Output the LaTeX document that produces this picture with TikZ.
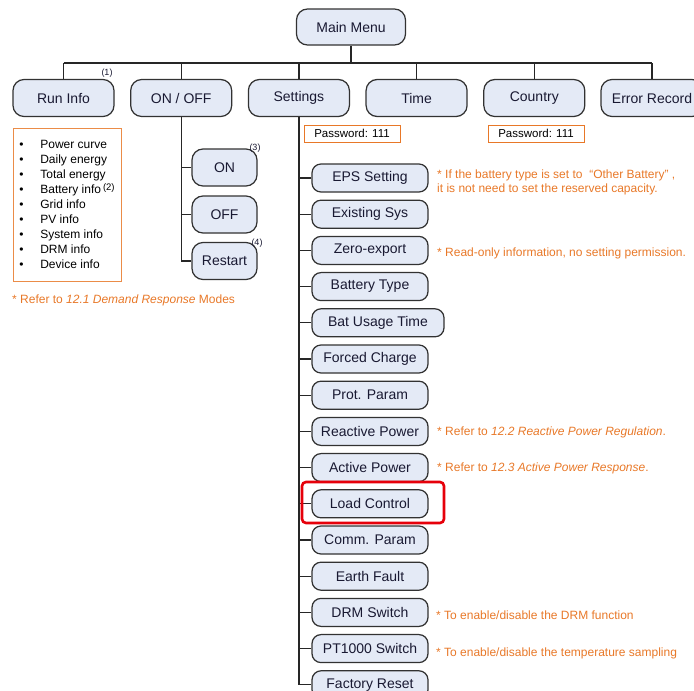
\documentclass[tikz,border=0pt]{standalone}
\usepackage{fontspec}
\setmainfont{Liberation Sans}

\definecolor{boxfill}{RGB}{228,234,246}
\definecolor{boxline}{RGB}{50,50,50}
\definecolor{menutext}{RGB}{25,25,50}
\definecolor{noteorange}{RGB}{232,120,40}
\definecolor{hired}{RGB}{230,0,10}

\tikzstyle{menu} = [align=center, draw=boxline, fill=boxfill, rectangle, rounded corners=11pt, line width=1.25pt, minimum height=37pt, minimum width=101pt, inner sep=0pt, text=menutext, font=\fontsize{14}{16}\selectfont]
\tikzstyle{sub} = [menu, rounded corners=9pt, minimum height=28pt, minimum width=116pt]
\tikzstyle{note} = [anchor=west, inner sep=0pt, align=left, text=noteorange, font=\fontsize{12}{14}\selectfont]
\tikzstyle{pwd} = [draw=noteorange, line width=0.9pt, minimum width=96pt, minimum height=17pt, inner sep=0pt, font=\fontsize{11.5}{13}\selectfont]
\tikzstyle{supnote} = [inner sep=0pt, text=menutext, font=\fontsize{9}{10}\selectfont]
\tikzstyle{wire} = [draw=black!85, line width=1.2pt]

\newcommand{\listrow}[1]{\makebox[21pt][l]{\textbullet}#1}

\begin{document}
\begin{tikzpicture}[x=1pt,y=-1pt]
            \useasboundingbox (0,0) rectangle (694,691);
            %
            % We start by placing the main menu and the first row
            \node [menu, minimum width=109pt, minimum height=36pt] (mainmenu) at (351,27) {Main Menu};
            \coordinate (busleft) at (63.5,63);
            \coordinate (busright) at (652,63);
            \node [menu] (runinfo) at (63.5,98) {Run Info};
            \node [menu] (onoff) at (181.2,98) {ON / OFF};
            \node [menu] (settings) at (298.9,98) {Settings};
            \node [menu] (time) at (416.6,98) {Time};
            \node [menu] (country) at (534.3,98) {Country};
            \node [menu, minimum width=102pt] (errorrecord) at (652,98) {Error Record};
            \node [supnote] (runsup) at (107,73) {(1)};
            %
            % The bus between the main menu and the first row
            \draw [wire] (busleft) -- (busright);
            \draw [wire] (mainmenu) -- (mainmenu |- busleft);
            \draw [wire] (runinfo) -- (runinfo |- busleft);
            \draw [wire] (onoff) -- (onoff |- busleft);
            \draw [wire] (settings) -- (settings |- busleft);
            \draw [wire] (time) -- (time |- busleft);
            \draw [wire] (country) -- (country |- busleft);
            \draw [wire] (errorrecord) -- (errorrecord |- busleft);
            %
            % Run info contents
            \node [draw=noteorange!85, line width=1pt, minimum width=108pt, minimum height=153pt, align=left, font=\fontsize{12}{15}\selectfont] (runlist) at (67,204.5)
                {\listrow{Power curve}\\ \listrow{Daily energy}\\ \listrow{Total energy}\\
                 \listrow{Battery info\,\raisebox{3pt}{\fontsize{9.5}{10}\selectfont(2)}}\\ \listrow{Grid info}\\ \listrow{PV info}\\
                 \listrow{System info}\\ \listrow{DRM info}\\ \listrow{Device info}};
            \node [note] (runnote) at (12,300) {* Refer to \textit{12.1 Demand Response} Modes};
            %
            % ON / OFF branch
            \node [menu, minimum width=65pt] (on) at (224.5,167.5) {ON};
            \node [menu, minimum width=65pt] (off) at (224.5,214.5) {OFF};
            \node [menu, minimum width=65pt] (restart) at (224.5,261) {Restart};
            \node [supnote] (onsup) at (255,148) {(3)};
            \node [supnote] (restartsup) at (257,243) {(4)};
            \draw [wire] (onoff) |- (restart);
            \draw [wire] (on) -- (on -| onoff);
            \draw [wire] (off) -- (off -| onoff);
            %
            % Passwords
            \node [pwd] (setpwd) at (352,133.5) {Password: 111};
            \node [pwd] (countrypwd) at (536,133.5) {Password: 111};
            %
            % Settings branch
            \node [sub] (eps) at (370,178) {EPS Setting};
            \node [sub] (existsys) at (370,214.2) {Existing Sys};
            \node [sub] (zeroexp) at (370,250.4) {Zero-export};
            \node [sub] (battype) at (370,286.6) {Battery Type};
            \node [sub, minimum width=132pt] (batusage) at (378,322.8) {Bat Usage Time};
            \node [sub] (forcedchg) at (370,359) {Forced Charge};
            \node [sub] (protparam) at (370,395.2) {Prot. Param};
            \node [sub] (reactive) at (370,431.4) {Reactive Power};
            \node [sub] (active) at (370,467.6) {Active Power};
            \node [sub] (loadctrl) at (370,503.8) {Load Control};
            \node [sub] (commparam) at (370,540) {Comm. Param};
            \node [sub] (earthfault) at (370,576.2) {Earth Fault};
            \node [sub] (drmswitch) at (370,612.4) {DRM Switch};
            \node [sub] (ptswitch) at (370,648.6) {PT1000 Switch};
            \node [sub] (factoryreset) at (370,684.8) {Factory Reset};
            \draw [wire] (settings) |- (factoryreset);
            \draw [wire] (eps) -- (eps -| settings);
            \draw [wire] (existsys) -- (existsys -| settings);
            \draw [wire] (zeroexp) -- (zeroexp -| settings);
            \draw [wire] (battype) -- (battype -| settings);
            \draw [wire] (batusage) -- (batusage -| settings);
            \draw [wire] (forcedchg) -- (forcedchg -| settings);
            \draw [wire] (protparam) -- (protparam -| settings);
            \draw [wire] (reactive) -- (reactive -| settings);
            \draw [wire] (active) -- (active -| settings);
            \draw [wire] (loadctrl) -- (loadctrl -| settings);
            \draw [wire] (commparam) -- (commparam -| settings);
            \draw [wire] (earthfault) -- (earthfault -| settings);
            \draw [wire] (drmswitch) -- (drmswitch -| settings);
            \draw [wire] (ptswitch) -- (ptswitch -| settings);
            %
            % The highlighted item
            \node [draw=hired, line width=2.6pt, rounded corners=4pt, minimum width=142pt, minimum height=41pt] (highlight) at (373,502.5) {};
            %
            % Notes beside the settings
            \node [note] (epsnote) at (437,182) {* If the battery type is set to \ “Other Battery” ,\\it is not need to set the reserved capacity.};
            \node [note] (zeronote) at (437,253) {* Read-only information, no setting permission.};
            \node [note] (reactnote) at (437,432) {* Refer to \textit{12.2 Reactive Power Regulation}.};
            \node [note] (activenote) at (437,468) {* Refer to \textit{12.3 Active Power Response}.};
            \node [note] (drmnote) at (436,615) {* To enable/disable the DRM function};
            \node [note] (ptnote) at (436,653) {* To enable/disable the temperature sampling};
            %
        \end{tikzpicture}
\end{document}
